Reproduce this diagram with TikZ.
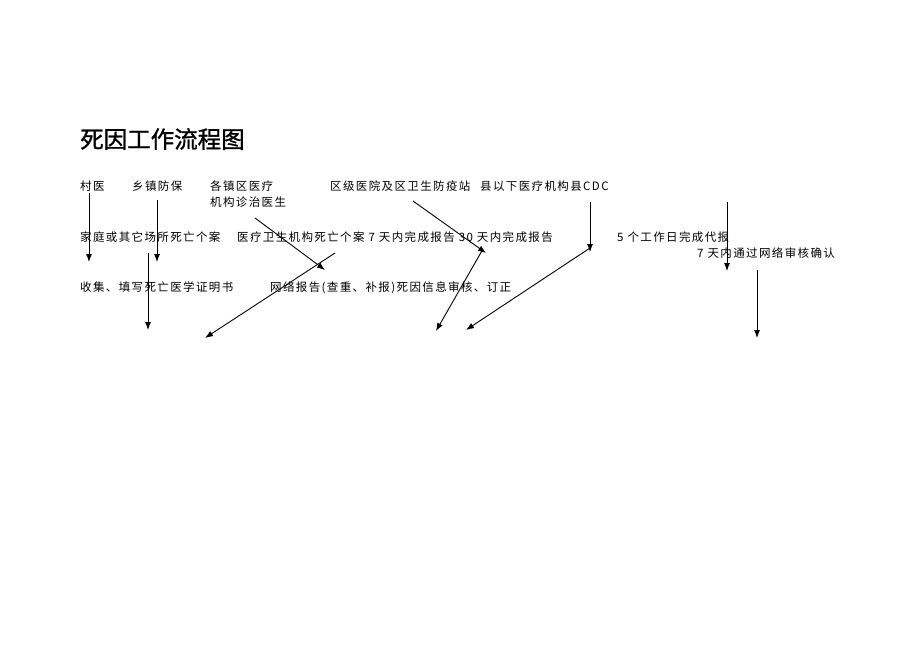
\documentclass[tikz,border=0pt]{standalone}
\usepackage{fontspec}
\usetikzlibrary{arrows.meta}
\newfontfamily\cjk[LetterSpace=12]{Noto Sans CJK SC}
\newfontfamily\cjktitle[FakeBold=1.2]{Noto Sans CJK SC}
\begin{document}
\begin{tikzpicture}[x=1pt,y=-1pt,
	txt/.style={anchor=base west,inner sep=0pt,font=\cjk\fontsize{11.5}{13}\selectfont},
	flow/.style={-{Latex[length=8pt,width=6pt]},line width=0.9pt}]
	\useasboundingbox (0,0) rectangle (920,651);
	% Title
	\node[anchor=base west,inner sep=0pt,font=\cjktitle\fontsize{23.5}{26}\selectfont] (Title) at (80,148) {死因工作流程图};

	% Row 1
	\node[txt] (CunYi) at (80,190) {村医};
	\node[txt] (XiangZhen) at (132,190) {乡镇防保};
	\node[txt] (GeZhen) at (210,190) {各镇区医疗};
	\node[txt] (GeZhen2) at (210,206) {机构诊治医生};
	\node[txt] (QuJi) at (330,190) {区级医院及区卫生防疫站};
	\node[txt] (XianYiXia) at (480,190) {县以下医疗机构县CDC};

	% Row 2
	\node[txt] (JiaTing) at (80,241) {家庭或其它场所死亡个案};
	\node[txt] (YiLiao) at (237,241) {医疗卫生机构死亡个案 7 天内完成报告 30 天内完成报告};
	\node[txt] (DaiBao) at (617,241) {5 个工作日完成代报};
	\node[txt] (ShenHe) at (697,257) {7 天内通过网络审核确认};

	% Row 3
	\node[txt] (ShouJi) at (80,291) {收集、填写死亡医学证明书};
	\node[txt] (WangLuo) at (270,291) {网络报告(查重、补报)死因信息审核、订正};

	% Arrow ends
	\coordinate (A1s) at (89,193);   \coordinate (A1e) at (89,262);
	\coordinate (A2s) at (157,200);  \coordinate (A2e) at (157,262);
	\coordinate (A3s) at (148,253);  \coordinate (A3e) at (148,330);
	\coordinate (A4s) at (255,218);  \coordinate (A4e) at (325,270);
	\coordinate (A5s) at (335,253);  \coordinate (A5e) at (205,338);
	\coordinate (A6s) at (413,201);  \coordinate (A6e) at (486,253);
	\coordinate (A7s) at (483,249);  \coordinate (A7e) at (436,331);
	\coordinate (A8s) at (590,202);  \coordinate (A8e) at (590,252);
	\coordinate (A9s) at (590,248);  \coordinate (A9e) at (466,330);
	\coordinate (A10s) at (727,202); \coordinate (A10e) at (727,271);
	\coordinate (A11s) at (757,270); \coordinate (A11e) at (757,338);

	\draw[flow] (A1s) -- (A1e);
	\draw[flow] (A2s) -- (A2e);
	\draw[flow] (A3s) -- (A3e);
	\draw[flow] (A4s) -- (A4e);
	\draw[flow] (A5s) -- (A5e);
	\draw[flow] (A6s) -- (A6e);
	\draw[flow] (A7s) -- (A7e);
	\draw[flow] (A8s) -- (A8e);
	\draw[flow] (A9s) -- (A9e);
	\draw[flow] (A10s) -- (A10e);
	\draw[flow] (A11s) -- (A11e);
\end{tikzpicture}
\end{document}
